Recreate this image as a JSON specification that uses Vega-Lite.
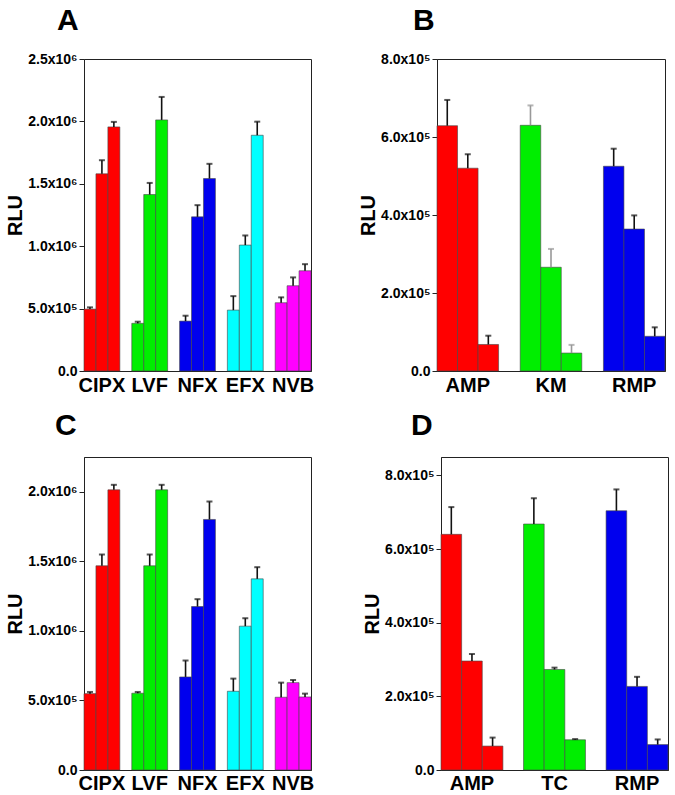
{
  "$schema": "https://vega.github.io/schema/vega-lite/v6.json",
  "background": "white",
  "padding": 5,
  "datasets": {
    "d": [
      {"panel": "A", "group": "CIPX", "sub": "1", "mean": 496000, "upper": 510000},
      {"panel": "A", "group": "CIPX", "sub": "2", "mean": 1580000, "upper": 1689000},
      {"panel": "A", "group": "CIPX", "sub": "3", "mean": 1956000, "upper": 1996000},
      {"panel": "A", "group": "LVF", "sub": "1", "mean": 382000, "upper": 395000},
      {"panel": "A", "group": "LVF", "sub": "2", "mean": 1414000, "upper": 1507000},
      {"panel": "A", "group": "LVF", "sub": "3", "mean": 2012000, "upper": 2196000},
      {"panel": "A", "group": "NFX", "sub": "1", "mean": 400000, "upper": 443000},
      {"panel": "A", "group": "NFX", "sub": "2", "mean": 1235000, "upper": 1329000},
      {"panel": "A", "group": "NFX", "sub": "3", "mean": 1542000, "upper": 1660000},
      {"panel": "A", "group": "EFX", "sub": "1", "mean": 488000, "upper": 600000},
      {"panel": "A", "group": "EFX", "sub": "2", "mean": 1009000, "upper": 1086000},
      {"panel": "A", "group": "EFX", "sub": "3", "mean": 1889000, "upper": 1998000},
      {"panel": "A", "group": "NVB", "sub": "1", "mean": 547000, "upper": 590000},
      {"panel": "A", "group": "NVB", "sub": "2", "mean": 683000, "upper": 750000},
      {"panel": "A", "group": "NVB", "sub": "3", "mean": 803000, "upper": 856000},
      {"panel": "B", "group": "AMP", "sub": "1", "mean": 629000, "upper": 695000},
      {"panel": "B", "group": "AMP", "sub": "2", "mean": 520000, "upper": 556000},
      {"panel": "B", "group": "AMP", "sub": "3", "mean": 68000, "upper": 90500},
      {"panel": "B", "group": "KM", "sub": "1", "mean": 630000, "upper": 681000},
      {"panel": "B", "group": "KM", "sub": "2", "mean": 266000, "upper": 313000},
      {"panel": "B", "group": "KM", "sub": "3", "mean": 46000, "upper": 67000},
      {"panel": "B", "group": "RMP", "sub": "1", "mean": 525000, "upper": 570000},
      {"panel": "B", "group": "RMP", "sub": "2", "mean": 364000, "upper": 399000},
      {"panel": "B", "group": "RMP", "sub": "3", "mean": 89000, "upper": 112000},
      {"panel": "C", "group": "CIPX", "sub": "1", "mean": 549000, "upper": 561000},
      {"panel": "C", "group": "CIPX", "sub": "2", "mean": 1468000, "upper": 1549000},
      {"panel": "C", "group": "CIPX", "sub": "3", "mean": 2014000, "upper": 2050000},
      {"panel": "C", "group": "LVF", "sub": "1", "mean": 552000, "upper": 561000},
      {"panel": "C", "group": "LVF", "sub": "2", "mean": 1468000, "upper": 1549000},
      {"panel": "C", "group": "LVF", "sub": "3", "mean": 2014000, "upper": 2050000},
      {"panel": "C", "group": "NFX", "sub": "1", "mean": 669000, "upper": 787000},
      {"panel": "C", "group": "NFX", "sub": "2", "mean": 1175000, "upper": 1228000},
      {"panel": "C", "group": "NFX", "sub": "3", "mean": 1801000, "upper": 1930000},
      {"panel": "C", "group": "EFX", "sub": "1", "mean": 566000, "upper": 657000},
      {"panel": "C", "group": "EFX", "sub": "2", "mean": 1034000, "upper": 1091000},
      {"panel": "C", "group": "EFX", "sub": "3", "mean": 1374000, "upper": 1458000},
      {"panel": "C", "group": "NVB", "sub": "1", "mean": 523000, "upper": 628000},
      {"panel": "C", "group": "NVB", "sub": "2", "mean": 628000, "upper": 647000},
      {"panel": "C", "group": "NVB", "sub": "3", "mean": 525000, "upper": 549000},
      {"panel": "D", "group": "AMP", "sub": "1", "mean": 640000, "upper": 714000},
      {"panel": "D", "group": "AMP", "sub": "2", "mean": 296000, "upper": 315000},
      {"panel": "D", "group": "AMP", "sub": "3", "mean": 65000, "upper": 88000},
      {"panel": "D", "group": "TC", "sub": "1", "mean": 668000, "upper": 738000},
      {"panel": "D", "group": "TC", "sub": "2", "mean": 273000, "upper": 278000},
      {"panel": "D", "group": "TC", "sub": "3", "mean": 82000, "upper": 84000},
      {"panel": "D", "group": "RMP", "sub": "1", "mean": 704000, "upper": 762000},
      {"panel": "D", "group": "RMP", "sub": "2", "mean": 227000, "upper": 253000},
      {"panel": "D", "group": "RMP", "sub": "3", "mean": 69000, "upper": 83000}
    ]
  },
  "config": {
    "font": "Liberation Sans",
    "view": {"stroke": "#222222", "strokeWidth": 1},
    "title": {"fontSize": 30, "fontWeight": "bold", "anchor": "start", "frame": "group", "offset": 16, "color": "#000000", "font": "Liberation Sans"},
    "axis": {"grid": false, "domainColor": "#222222", "tickColor": "#222222", "labelColor": "#000000", "titleColor": "#000000", "labelFont": "Liberation Sans", "titleFont": "Liberation Sans"}
  },
  "resolve": {"scale": {"xOffset": "independent", "x": "independent", "y": "independent"}},
  "spacing": 14,
  "vconcat": [
    {
      "spacing": 43,
      "resolve": {"scale": {"xOffset": "independent", "x": "independent", "y": "independent"}},
      "hconcat": [
        {
          "width": 227, "height": 312,
          "title": {"text": "A", "dx": -27},
          "data": {"name": "d"},
          "transform": [{"filter": "datum.panel == 'A'"}],
          "encoding": {
            "x": {"field": "group", "type": "nominal", "sort": null, "scale": {"paddingInner": 0.25, "paddingOuter": 0},
                  "axis": {"title": null, "labelAngle": 0, "labelFontSize": 20, "labelFontWeight": "bold", "ticks": false, "labelPadding": 4}},
            "xOffset": {"field": "sub", "type": "nominal", "scale": {"paddingInner": 0, "paddingOuter": 0}}
          },
          "layer": [
            {"mark": {"type": "bar", "stroke": "#444444", "strokeWidth": 0.6},
             "encoding": {
               "y": {"field": "mean", "type": "quantitative", "scale": {"domain": [0, 2500000], "nice": false},
                     "axis": {"title": "RLU", "titleFontSize": 20, "titleFontWeight": "bold", "titlePadding": 2,
                              "values": [0, 250000, 500000, 750000, 1000000, 1250000, 1500000, 1750000, 2000000, 2250000, 2500000],
                              "labelExpr": "datum.value == 0 ? '0.0' : (datum.value % 500000 != 0 ? '' : (datum.value < 1000000 ? format(datum.value/100000, '.1f') + 'x10⁵' : format(datum.value/1000000, '.1f') + 'x10⁶'))",
                              "labelFontSize": 14, "labelFontWeight": "bold", "labelPadding": 2,
                              "tickSize": {"condition": {"test": "datum.value % 500000 != 0", "value": 3}, "value": 5}}},
               "color": {"field": "group", "type": "nominal", "legend": null,
                         "scale": {"domain": ["CIPX", "LVF", "NFX", "EFX", "NVB", "AMP", "KM", "TC", "RMP"],
                                   "range": ["#ff0000", "#00ee00", "#0000ee", "#00ffff", "#ff00ff", "#ff0000", "#00ee00", "#00ee00", "#0000ee"]}}
             }},
            {"mark": {"type": "rule", "strokeWidth": 1.6, "color": "#111111"},
             "encoding": {"y": {"field": "mean", "type": "quantitative"}, "y2": {"field": "upper"}}},
            {"mark": {"type": "tick", "thickness": 2, "size": 6, "color": "#111111"},
             "encoding": {"y": {"field": "upper", "type": "quantitative"}}}
          ]
        },
        {
          "width": 228, "height": 312,
          "title": {"text": "B", "dx": -24},
          "data": {"name": "d"},
          "transform": [{"filter": "datum.panel == 'B'"}],
          "encoding": {
            "x": {"field": "group", "type": "nominal", "sort": null, "scale": {"paddingInner": 0.26, "paddingOuter": 0},
                  "axis": {"title": null, "labelAngle": 0, "labelFontSize": 20, "labelFontWeight": "bold", "ticks": false, "labelPadding": 4}},
            "xOffset": {"field": "sub", "type": "nominal", "scale": {"paddingInner": 0, "paddingOuter": 0}}
          },
          "layer": [
            {"mark": {"type": "bar", "stroke": "#444444", "strokeWidth": 0.6},
             "encoding": {
               "y": {"field": "mean", "type": "quantitative", "scale": {"domain": [0, 800000], "nice": false},
                     "axis": {"title": "RLU", "titleFontSize": 20, "titleFontWeight": "bold", "titlePadding": 2,
                              "values": [0, 100000, 200000, 300000, 400000, 500000, 600000, 700000, 800000],
                              "labelExpr": "datum.value == 0 ? '0.0' : (datum.value % 200000 != 0 ? '' : format(datum.value/100000, '.1f') + 'x10⁵')",
                              "labelFontSize": 14, "labelFontWeight": "bold", "labelPadding": 2,
                              "tickSize": {"condition": {"test": "datum.value % 200000 != 0", "value": 3}, "value": 5}}},
               "color": {"field": "group", "type": "nominal", "legend": null,
                         "scale": {"domain": ["CIPX", "LVF", "NFX", "EFX", "NVB", "AMP", "KM", "TC", "RMP"],
                                   "range": ["#ff0000", "#00ee00", "#0000ee", "#00ffff", "#ff00ff", "#ff0000", "#00ee00", "#00ee00", "#0000ee"]}}
             }},
            {"mark": {"type": "rule", "strokeWidth": 1.6},
             "encoding": {"y": {"field": "mean", "type": "quantitative"}, "y2": {"field": "upper"},
                          "color": {"condition": {"test": "datum.group == 'KM'", "value": "#999999"}, "value": "#111111"}}},
            {"mark": {"type": "tick", "thickness": 2, "size": 6},
             "encoding": {"y": {"field": "upper", "type": "quantitative"},
                          "color": {"condition": {"test": "datum.group == 'KM'", "value": "#999999"}, "value": "#111111"}}}
          ]
        }
      ]
    },
    {
      "spacing": 47,
      "resolve": {"scale": {"xOffset": "independent", "x": "independent", "y": "independent"}},
      "hconcat": [
        {
          "width": 227, "height": 313,
          "title": {"text": "C", "dx": -29},
          "data": {"name": "d"},
          "transform": [{"filter": "datum.panel == 'C'"}],
          "encoding": {
            "x": {"field": "group", "type": "nominal", "sort": null, "scale": {"paddingInner": 0.25, "paddingOuter": 0},
                  "axis": {"title": null, "labelAngle": 0, "labelFontSize": 20, "labelFontWeight": "bold", "ticks": false, "labelPadding": 3}},
            "xOffset": {"field": "sub", "type": "nominal", "scale": {"paddingInner": 0, "paddingOuter": 0}}
          },
          "layer": [
            {"mark": {"type": "bar", "stroke": "#444444", "strokeWidth": 0.6},
             "encoding": {
               "y": {"field": "mean", "type": "quantitative", "scale": {"domain": [0, 2250000], "nice": false},
                     "axis": {"title": "RLU", "titleFontSize": 20, "titleFontWeight": "bold", "titlePadding": 2,
                              "values": [0, 250000, 500000, 750000, 1000000, 1250000, 1500000, 1750000, 2000000],
                              "labelExpr": "datum.value == 0 ? '0.0' : (datum.value % 500000 != 0 ? '' : (datum.value < 1000000 ? format(datum.value/100000, '.1f') + 'x10⁵' : format(datum.value/1000000, '.1f') + 'x10⁶'))",
                              "labelFontSize": 14, "labelFontWeight": "bold", "labelPadding": 2,
                              "tickSize": {"condition": {"test": "datum.value % 500000 != 0", "value": 3}, "value": 5}}},
               "color": {"field": "group", "type": "nominal", "legend": null,
                         "scale": {"domain": ["CIPX", "LVF", "NFX", "EFX", "NVB", "AMP", "KM", "TC", "RMP"],
                                   "range": ["#ff0000", "#00ee00", "#0000ee", "#00ffff", "#ff00ff", "#ff0000", "#00ee00", "#00ee00", "#0000ee"]}}
             }},
            {"mark": {"type": "rule", "strokeWidth": 1.6, "color": "#111111"},
             "encoding": {"y": {"field": "mean", "type": "quantitative"}, "y2": {"field": "upper"}}},
            {"mark": {"type": "tick", "thickness": 2, "size": 6, "color": "#111111"},
             "encoding": {"y": {"field": "upper", "type": "quantitative"}}}
          ]
        },
        {
          "width": 227, "height": 313,
          "title": {"text": "D", "dx": -30},
          "data": {"name": "d"},
          "transform": [{"filter": "datum.panel == 'D'"}],
          "encoding": {
            "x": {"field": "group", "type": "nominal", "sort": null, "scale": {"paddingInner": 0.25, "paddingOuter": 0},
                  "axis": {"title": null, "labelAngle": 0, "labelFontSize": 20, "labelFontWeight": "bold", "ticks": false, "labelPadding": 3}},
            "xOffset": {"field": "sub", "type": "nominal", "scale": {"paddingInner": 0, "paddingOuter": 0}}
          },
          "layer": [
            {"mark": {"type": "bar", "stroke": "#444444", "strokeWidth": 0.6},
             "encoding": {
               "y": {"field": "mean", "type": "quantitative", "scale": {"domain": [0, 850000], "nice": false},
                     "axis": {"title": "RLU", "titleFontSize": 20, "titleFontWeight": "bold", "titlePadding": 2,
                              "values": [0, 100000, 200000, 300000, 400000, 500000, 600000, 700000, 800000],
                              "labelExpr": "datum.value == 0 ? '0.0' : (datum.value % 200000 != 0 ? '' : format(datum.value/100000, '.1f') + 'x10⁵')",
                              "labelFontSize": 14, "labelFontWeight": "bold", "labelPadding": 2,
                              "tickSize": {"condition": {"test": "datum.value % 200000 != 0", "value": 3}, "value": 5}}},
               "color": {"field": "group", "type": "nominal", "legend": null,
                         "scale": {"domain": ["CIPX", "LVF", "NFX", "EFX", "NVB", "AMP", "KM", "TC", "RMP"],
                                   "range": ["#ff0000", "#00ee00", "#0000ee", "#00ffff", "#ff00ff", "#ff0000", "#00ee00", "#00ee00", "#0000ee"]}}
             }},
            {"mark": {"type": "rule", "strokeWidth": 1.6, "color": "#111111"},
             "encoding": {"y": {"field": "mean", "type": "quantitative"}, "y2": {"field": "upper"}}},
            {"mark": {"type": "tick", "thickness": 2, "size": 6, "color": "#111111"},
             "encoding": {"y": {"field": "upper", "type": "quantitative"}}}
          ]
        }
      ]
    }
  ]
}
